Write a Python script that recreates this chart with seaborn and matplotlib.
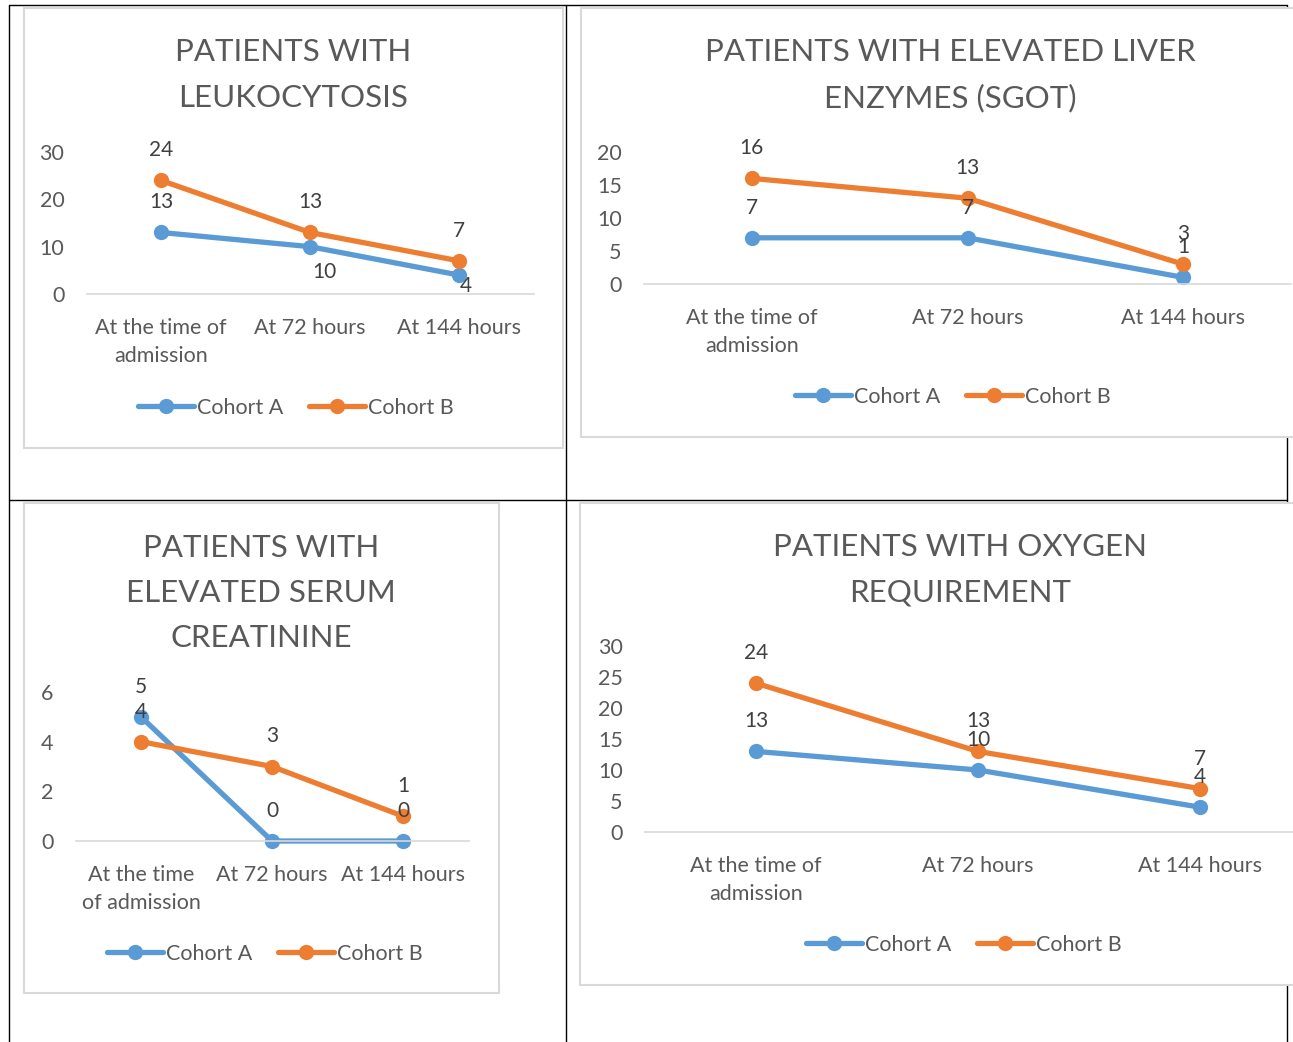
"""
Four Excel-style line charts comparing Cohort A and Cohort B over time,
laid out inside a 2x2 table grid.

Output: out.png
"""

import matplotlib.pyplot as plt
import numpy as np
import pandas as pd
import seaborn as sns
from matplotlib.lines import Line2D
from matplotlib.patches import Rectangle

# ---------------------------------------------------------------------------
# Data
# ---------------------------------------------------------------------------

TIMES = ["At the time of admission", "At 72 hours", "At 144 hours"]
COHORTS = ["Cohort A", "Cohort B"]

LEUKO_A = [13, 10, 4]
LEUKO_B = [24, 13, 7]

SGOT_A = [7, 7, 1]
SGOT_B = [16, 13, 3]

CREAT_A = [5, 0, 0]
CREAT_B = [4, 3, 1]

OXY_A = [13, 10, 4]
OXY_B = [24, 13, 7]

TICKS_WIDE = ["At the time of\nadmission", "At 72 hours", "At 144 hours"]
TICKS_NARROW = ["At the time\nof admission", "At 72 hours", "At 144 hours"]

TITLES = [
    "PATIENTS WITH\nLEUKOCYTOSIS",
    "PATIENTS WITH ELEVATED LIVER\nENZYMES (SGOT)",
    "PATIENTS WITH\nELEVATED SERUM\nCREATININE",
    "PATIENTS WITH OXYGEN\nREQUIREMENT",
]

# ---------------------------------------------------------------------------
# Style
# ---------------------------------------------------------------------------

BLUE = "#5B9BD5"
ORANGE = "#ED7D31"
TEXT = "#595959"
LABEL = "#404040"
FRAME = "#D9D9D9"
PALETTE = {"Cohort A": BLUE, "Cohort B": ORANGE}
LW, MS = 3.8, 11

W, H = 1293, 1042

sns.set_theme(style="white")
plt.rcParams["font.family"] = ["Lato", "DejaVu Sans"]


def fx(x):
    return x / W


def fy(y):
    return 1 - y / H


def make_frame(a, b):
    return pd.DataFrame({
        "time": TIMES * 2,
        "cohort": np.repeat(COHORTS, 3),
        "patients": list(a) + list(b),
    })


# panel layout: axes box (left, top, right, bottom) in pixels, title centre,
# legend centre, y-ticks, x tick labels
PANELS = [
    dict(df=make_frame(LEUKO_A, LEUKO_B), box=(86.5, 152, 533.5, 294),
         title=(293, 75), legend=(296, 408), yticks=np.arange(0, 31, 10),
         xticks=TICKS_WIDE, moves={("Cohort A", 1): (14, -25), ("Cohort A", 2): (7, -11)}),
    dict(df=make_frame(SGOT_A, SGOT_B), box=(644, 152, 1291, 284),
         title=(950, 75), legend=(953, 397), yticks=np.arange(0, 21, 5),
         xticks=TICKS_WIDE, moves={}),
    dict(df=make_frame(CREAT_A, CREAT_B), box=(75.5, 692, 468.5, 841),
         title=(261, 593), legend=(265, 954), yticks=np.arange(0, 7, 2),
         xticks=TICKS_NARROW, moves={}),
    dict(df=make_frame(OXY_A, OXY_B), box=(645, 646, 1311, 832),
         title=(960, 570), legend=(964, 945), yticks=np.arange(0, 31, 5),
         xticks=TICKS_WIDE, moves={}),
]

# chart frames (left, top, right, bottom) in pixels
FRAMES = [(24, 8, 563, 448), (581, 8, 1310, 437), (24, 503, 499, 993), (580, 503, 1310, 985)]

fig = plt.figure(figsize=(W / 100, H / 100), dpi=100)
fig.patch.set_facecolor("white")

# table grid
for x0, y0, x1, y1 in [(9, 5, 1287, 5), (9, 500, 1287, 500), (9, 5, 9, 1042),
                       (566, 5, 566, 1042), (1287, 5, 1287, 1042)]:
    fig.add_artist(Line2D([fx(x0), fx(x1)], [fy(y0), fy(y1)], color="black",
                          lw=1.0, transform=fig.transFigure, zorder=-3))

for l, t, r, b in FRAMES:
    fig.add_artist(Rectangle((fx(l), fy(b)), fx(r) - fx(l), fy(t) - fy(b),
                             facecolor="white", edgecolor=FRAME, lw=1.5,
                             transform=fig.transFigure, zorder=-2))

for p, title in zip(PANELS, TITLES):
    l, t, r, b = p["box"]
    ax = fig.add_axes([fx(l), fy(b), fx(r) - fx(l), fy(t) - fy(b)])
    ax.set_facecolor("none")

    sns.lineplot(data=p["df"], x="time", y="patients", hue="cohort",
                 palette=PALETTE, marker="o", markersize=MS, markeredgewidth=0,
                 linewidth=LW, sort=False, legend=False, ax=ax)
    for line in ax.lines:
        line.set_clip_on(False)

    ax.set_xlim(-0.5, 2.5)
    ax.set_ylim(p["yticks"][0], p["yticks"][-1])
    ax.set_yticks(p["yticks"])
    ax.set_xticks(range(3))
    ax.set_xticklabels(p["xticks"], linespacing=1.5)
    ax.set_xlabel("")
    ax.set_ylabel("")
    ax.tick_params(axis="both", length=0, labelsize=15.5, labelcolor=TEXT)
    ax.tick_params(axis="y", pad=16)
    ax.tick_params(axis="x", pad=17)
    for side in ["left", "right", "top"]:
        ax.spines[side].set_visible(False)
    ax.spines["bottom"].set_color(FRAME)
    ax.spines["bottom"].set_linewidth(1.2)

    # data labels
    for row in p["df"].itertuples():
        i = TIMES.index(row.time)
        dx, dy = p["moves"].get((row.cohort, i), (0, 30))
        ax.annotate(f"{row.patients}", (i, row.patients), xytext=(dx, dy),
                    textcoords="offset pixels", ha="center", va="center",
                    fontsize=15, color=LABEL, zorder=5, annotation_clip=False)

    fig.text(fx(p["title"][0]), fy(p["title"][1]), title, ha="center", va="center",
             fontsize=22.5, color=TEXT, linespacing=1.75)

    handles = [Line2D([], [], color=PALETTE[c], lw=LW, marker="o", markersize=MS,
                      markeredgewidth=0) for c in COHORTS]
    ax.legend(handles, COHORTS, loc="center", ncol=2, frameon=False,
              bbox_to_anchor=(fx(p["legend"][0]), fy(p["legend"][1])),
              bbox_transform=fig.transFigure, fontsize=15.5, labelcolor=TEXT,
              handlelength=2.6, handletextpad=0.15, columnspacing=1.2)

fig.savefig("out.png", dpi=100, facecolor="white")
